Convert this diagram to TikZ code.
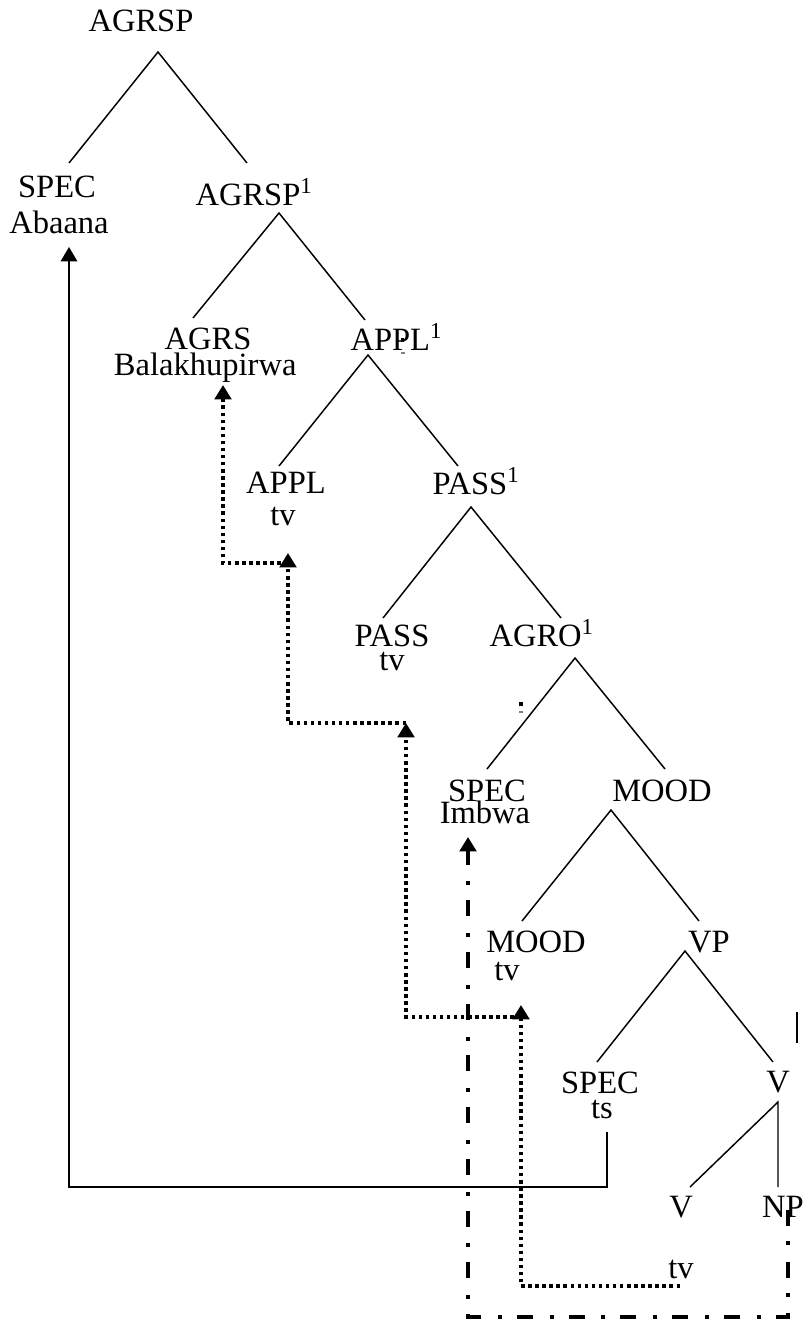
\documentclass[tikz,border=0pt]{standalone}
\usepackage{fontspec}
\setmainfont{Liberation Serif}
\usetikzlibrary{arrows.meta}

\begin{document}
\begin{tikzpicture}[x=0.375pt, y=-0.375pt, >={Triangle[length=5.4pt,width=6.2pt]},
  lbl/.style={anchor=base, inner sep=0pt, font=\fontsize{12.2}{14}\selectfont},
  lblw/.style={lbl, anchor=base west},
  lble/.style={lbl, anchor=base east},
  branch/.style={line width=0.55pt},
  trace/.style={->, line width=0.6pt},
  move/.style={->, line width=1.4pt, dash pattern=on 1.3pt off 1.35pt},
  chain/.style={->, line width=1.7pt, dash pattern=on 6pt off 5.6pt on 1.5pt off 6.3pt}]
\useasboundingbox (0,0) rectangle (806,1323);

% Labels
\node[lbl] (agrsp) at (141,32) {AGRSP};
\node[lbl] (spec) at (57,197) {SPEC};
\node[lbl] (abaana) at (59,233) {Abaana};
\node[lblw] (agrspbar) at (195,205) {AGRSP\textsuperscript{1}};
\node[lble] (agrs) at (252,349) {AGRS};
\node[lble] (bala) at (297,375) {Balakhupirwa};
\node[lblw] (applbar) at (350,350) {APPL\textsuperscript{1}};
\node[lbl] (appl) at (286,493) {APPL};
\node[lbl] (appltv) at (283,525) {tv};
\node[lblw] (passbar) at (432,494) {PASS\textsuperscript{1}};
\node[lbl] (pass) at (392,646) {PASS};
\node[lbl] (passtv) at (392,670) {tv};
\node[lblw] (agrobar) at (489,646) {AGRO\textsuperscript{1}};
\node[lbl] (specb) at (487,801) {SPEC};
\node[lbl] (imbwa) at (485,823) {Imbwa};
\node[lbl] (mood) at (662,801) {MOOD};
\node[lbl] (moodb) at (536,952) {MOOD};
\node[lbl] (moodtv) at (507,980) {tv};
\node[lbl] (vp) at (709,952) {VP};
\node[lbl] (specc) at (600,1093) {SPEC};
\node[lbl] (ts) at (602,1118) {ts};
\node[lbl] (vbar) at (778,1092) {V};
\node[lbl] (v) at (681,1217) {V};
\node[lbl] (np) at (783,1217) {NP};
\node[lbl] (vtv) at (681,1278) {tv};

% Branch points
\coordinate (agrsp-j) at (158,52);
\coordinate (spec-t) at (69,163);
\coordinate (agrspbar-t) at (247,163);
\coordinate (agrspbar-j) at (279,213);
\coordinate (agrs-t) at (193,318);
\coordinate (applbar-t) at (365,320);
\coordinate (applbar-j) at (368,355);
\coordinate (appl-t) at (279,466);
\coordinate (passbar-t) at (458,466);
\coordinate (passbar-j) at (471,507);
\coordinate (pass-t) at (383,618);
\coordinate (agrobar-t) at (561,618);
\coordinate (agrobar-j) at (575,658);
\coordinate (specb-t) at (487,769);
\coordinate (mood-t) at (665,769);
\coordinate (mood-j) at (611,810);
\coordinate (moodb-t) at (522,921);
\coordinate (vp-t) at (699,921);
\coordinate (vp-j) at (685,951);
\coordinate (specc-t) at (597,1062);
\coordinate (vbar-t) at (773,1062);
\coordinate (vbar-j) at (778,1102);
\coordinate (v-t) at (690,1187);
\coordinate (np-t) at (778,1187);

% Tree
\draw[branch] (spec-t) -- (agrsp-j) -- (agrspbar-t);
\draw[branch] (agrs-t) -- (agrspbar-j) -- (applbar-t);
\draw[branch] (appl-t) -- (applbar-j) -- (passbar-t);
\draw[branch] (pass-t) -- (passbar-j) -- (agrobar-t);
\draw[branch] (specb-t) -- (agrobar-j) -- (mood-t);
\draw[branch] (moodb-t) -- (mood-j) -- (vp-t);
\draw[branch] (specc-t) -- (vp-j) -- (vbar-t);
\draw[branch] (v-t) -- (vbar-j) -- (np-t);

% Subject movement
\coordinate (ts-b) at (607,1132);
\coordinate (abaana-a) at (69,247);
\draw[trace] (ts-b) -- ++(0,55) -| (abaana-a);

% Verb movement
\coordinate (vtv-b) at (680,1286);
\coordinate (moodtv-a) at (521,1005);
\coordinate (moodtv-j) at (521,1017);
\coordinate (passtv-a) at (406,723);
\coordinate (appltv-a) at (288,553);
\coordinate (appltv-j) at (288,563);
\coordinate (bala-a) at (223,385);
\draw[move] (vtv-b) -| (moodtv-a);
\draw[move] (moodtv-j) -| (passtv-a);
\draw[move] (passtv-a) -| (appltv-a);
\draw[move] (appltv-j) -| (bala-a);

% Object movement
\coordinate (np-b) at (788,1210);
\coordinate (imbwa-a) at (468,837);
\draw[chain] (np-b) -- ++(0,107) -| (imbwa-a);

% Stray marks
\fill (401,338) rectangle (404,342);
\fill[gray] (401,352) rectangle (405,353.5);
\fill (519,702) rectangle (523,706);
\fill[gray] (519,711) rectangle (523,712.5);
\draw[branch] (797,1012) -- (797,1043);
\end{tikzpicture}
\end{document}
